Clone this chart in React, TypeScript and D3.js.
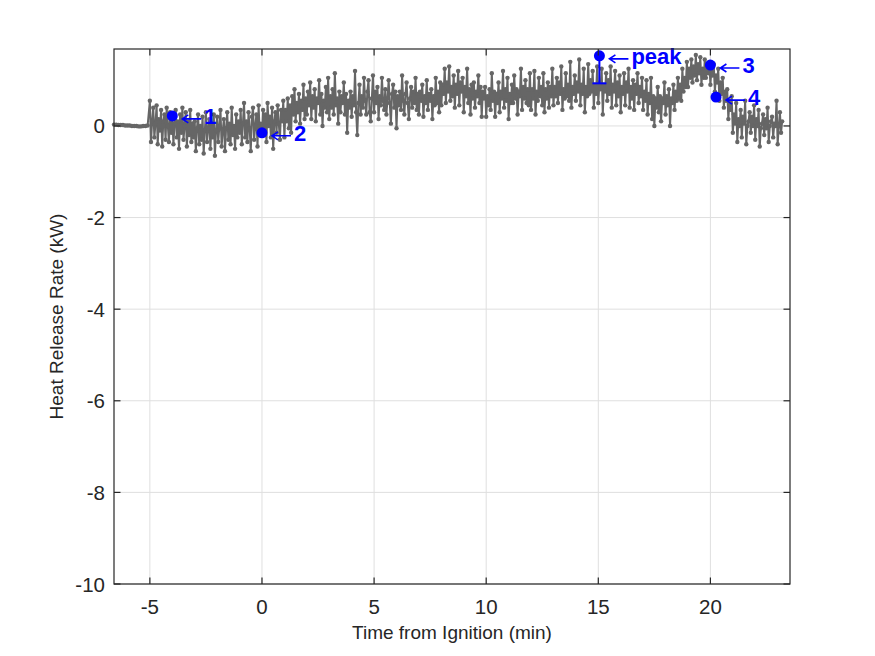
import { useMemo } from "react";
import * as d3 from "d3";

const W = 875;
const H = 656;
const MARGIN = { top: 49, right: 85, bottom: 72, left: 114 };

const X_DOMAIN = [-6.6, 23.55];
const X_TICKS = [-5, 0, 5, 10, 15, 20];
const Y_DOMAIN = [-10, 1.68];
const Y_TICKS = [-10, -8, -6, -4, -2, 0];

// pre-ignition baseline, sampled every 0.1 min from -6.6
const PRE_START = -6.6;
const PRE_STEP = 0.1;
const PRE_VALUES = [0.03, 0.03, 0.02, 0.02, 0.02, 0.01, 0.01, 0.01, 0.0, 0.0, 0.0, -0.01, -0.01, 0.0, 0.0, 0.01];

// heat release rate (kW), sampled every 0.05 min from -5.0 (one row per minute)
const HRR_START = -5.0;
const STEP = 0.05;
const HRR_VALUES = [
  0.55, -0.35, 0.1, 0.4, -0.25, 0.05, 0.45, -0.4, 0.15, -0.1, 0.35, -0.45, 0.1, 0.25, -0.3, 0.4, 0.0, -0.35, 0.3, -0.15,
  0.2, -0.4, 0.05, 0.35, -0.25, 0.1, -0.5, 0.25, -0.15, 0.4, -0.3, 0.0, 0.3, -0.45, 0.1, -0.2, 0.35, -0.35, 0.05, -0.25,
  0.1, -0.55, -0.05, 0.25, -0.4, 0.0, -0.3, 0.2, -0.6, -0.1, 0.3, -0.35, -0.05, 0.15, -0.5, 0.05, -0.25, 0.25, -0.65, -0.1,
  0.2, -0.35, 0.0, 0.35, -0.45, -0.1, 0.15, -0.55, -0.05, 0.3, -0.3, 0.05, -0.4, 0.4, -0.2, 0.0, -0.5, 0.25, -0.25, 0.1,
  -0.15, 0.35, -0.4, 0.05, 0.5, -0.25, 0.1, -0.35, 0.3, -0.05, -0.55, 0.2, 0.4, -0.3, 0.0, 0.25, -0.45, 0.45, -0.2, 0.05,
  -0.2, 0.35, -0.05, 0.25, -0.35, 0.5, 0.0, 0.2, -0.25, 0.4, -0.5, 0.1, 0.3, -0.15, 0.45, 0.05, -0.3, 0.35, 0.1, 0.55,
  -0.25, 0.35, 0.1, 0.6, -0.05, 0.45, -0.15, 0.65, 0.25, 0.8, 0.1, 0.5, 0.3, 0.7, 0.05, 0.55, 0.35, 0.9, 0.15, 0.6,
  0.25, 0.75, 0.45, 0.95, 0.15, 0.65, 0.4, 0.8, 0.1, 0.6, 0.5, 1.0, 0.25, 0.7, 0.0, 0.55, 0.4, 0.85, 0.3, 1.05,
  0.15, 0.65, 0.4, 0.8, 0.25, 1.15, 0.45, 0.6, 0.05, 0.75, 0.3, 0.65, 0.5, 0.95, 0.25, 0.7, -0.15, 0.55, 0.4, 0.75,
  0.2, 0.65, 0.45, 1.2, 0.3, -0.2, 0.5, 0.9, 0.25, 0.65, 0.4, 1.05, 0.55, 0.25, 0.75, 1.0, 0.3, 0.1, 0.6, 1.1,
  0.3, 0.75, 0.5, 0.85, 0.15, 0.65, 0.45, 1.05, 0.55, 0.35, 0.8, 0.25, 0.6, 1.0, 0.5, 0.05, 0.7, 0.9, 0.4, 0.75,
  -0.05, 0.65, 0.45, 0.75, 0.35, 1.1, 0.55, 0.25, 0.7, 0.95, 0.5, 0.15, 0.6, 0.85, 0.4, 0.75, 0.5, 1.05, 0.35, 0.7,
  0.25, 0.75, 0.55, 0.9, 0.2, 0.65, 0.5, 1.0, 0.35, 0.7, 0.55, 0.8, 0.15, 0.65, 0.45, 1.05, 0.5, 0.75, 0.3, 0.95,
  0.45, 0.9, 0.7, 1.25, 0.5, 0.95, 0.75, 1.3, 0.55, 0.85, 0.65, 1.1, 0.4, 0.9, 0.7, 1.2, 0.45, 0.95, 0.75, 1.05,
  0.3, 0.85, 0.65, 1.25, 0.5, 0.8, 0.25, 0.9, 0.6, 0.95, 0.4, 0.75, 0.65, 1.1, 0.5, 0.85, 0.2, 0.75, 0.6, 0.85,
  0.2, 0.65, 0.45, 0.8, 0.35, 1.15, 0.55, 0.75, 0.2, 0.7, 0.5, 0.95, 0.3, 0.75, 0.6, 1.2, 0.4, 0.8, 0.55, 1.05,
  0.15, 0.7, 0.5, 0.9, 0.5, 1.1, 0.6, 0.8, 0.25, 0.75, 0.65, 1.25, 0.35, 0.85, 0.6, 1.0, 0.5, 0.8, 0.45, 1.15,
  0.35, 0.8, 0.6, 1.2, 0.25, 0.75, 0.55, 1.05, 0.65, 0.85, 0.45, 1.15, 0.3, 0.8, 0.6, 0.95, 0.4, 0.85, 0.65, 1.25,
  0.45, 0.85, 0.65, 1.05, 0.5, 0.95, 0.7, 1.3, 0.35, 0.8, 0.6, 1.15, 0.65, 0.9, 0.55, 1.4, 0.4, 0.85, 0.7, 1.1,
  0.55, 0.95, 0.75, 1.45, 0.45, 0.9, 0.7, 1.25, 0.3, 0.85, 0.65, 1.35, 0.7, 1.0, 0.75, 1.2, 0.4, 0.9, 0.7, 1.3,
  0.5, 0.95, 0.8, 1.25, 0.25, 0.9, 0.75, 1.15, 0.55, 1.0, 0.7, 1.3, 0.4, 0.9, 0.75, 1.2, 0.45, 0.95, 0.65, 1.1,
  0.3, 0.85, 0.7, 1.15, 0.45, 0.95, 0.75, 1.25, 0.4, 0.85, 0.6, 1.0, 0.35, 0.9, 0.7, 1.15, 0.5, 0.85, 0.65, 1.05,
  0.35, 0.75, 0.55, 1.0, 0.25, 0.7, 0.5, 1.05, 0.15, 0.65, 0.0, 0.6, 0.4, 0.85, 0.3, 0.65, 0.1, 0.6, 0.5, 0.95,
  0.25, 0.65, 0.45, 0.8, 0.0, 0.6, 0.5, 0.9, 0.35, 0.75, 0.55, 1.05, 0.6, 0.9, 0.55, 1.25, 0.75, 1.05, 0.85, 1.4,
  0.85, 1.25, 1.05, 1.45, 0.95, 1.3, 1.1, 1.55, 1.0, 1.35, 1.15, 1.5, 0.9, 1.25, 1.05, 1.45, 1.05, 1.35, 1.15, 1.4,
  0.9, 1.25, 1.1, 1.35, 0.75, 1.1, 0.95, 1.25, 0.55, 0.95, 0.7, 1.05, 0.4, 0.75, 0.55, 0.8, 0.15, 0.55, 0.35, 0.65,
  -0.15, 0.25, 0.05, 0.5, -0.35, 0.15, 0.0, 0.35, -0.25, 0.2, 0.05, 0.55, -0.4, 0.0, 0.1, 0.3, -0.15, 0.2, 0.0, 0.45,
  -0.3, 0.15, 0.0, 0.35, -0.45, -0.05, 0.05, 0.25, -0.2, 0.15, -0.05, 0.4, -0.35, 0.0, 0.1, 0.2, -0.25, 0.05, 0.0, 0.55,
  -0.4, 0.0, 0.3, -0.15, 0.1,
];

// annotated events
const EVENT_LABELS = ["1", "2", "peak", "3", "4"];
const EVENT_TIMES = [-4.0, 0.0, 15.05, 20.0, 20.25];
const EVENT_VALUES = [0.22, -0.15, 1.53, 1.33, 0.63];
const PEAK_LOWER = 0.93;

const FONT = "'Liberation Sans', Arial, Helvetica, sans-serif";
const AXIS_COLOR = "#262626";
const GRID_COLOR = "#dfdfdf";
const LINE_COLOR = "#666666";
const BLUE = "#0000ff";

export default function App() {
  const innerW = W - MARGIN.left - MARGIN.right;
  const innerH = H - MARGIN.top - MARGIN.bottom;

  const x = d3.scaleLinear().domain(X_DOMAIN).range([0, innerW]);
  const y = d3.scaleLinear().domain(Y_DOMAIN).range([innerH, 0]);

  const points = useMemo(() => {
    const pre = PRE_VALUES.map((v, i) => [PRE_START + i * PRE_STEP, v]);
    const main = HRR_VALUES.map((v, i) => [HRR_START + i * STEP, v]);
    return [...pre, ...main];
  }, []);

  const line = d3
    .line<number[]>()
    .x((d) => x(d[0]))
    .y((d) => y(d[1]));

  const tickLen = 6.5;

  return (
    <svg
      width={W}
      height={H}
      style={{ position: "absolute", left: 0, top: 0, background: "#fff" }}
      fontFamily={FONT}
    >
      <g transform={`translate(${MARGIN.left},${MARGIN.top})`}>
        {/* grid */}
        {X_TICKS.map((t) => (
          <line key={"gx" + t} x1={x(t)} x2={x(t)} y1={0} y2={innerH} stroke={GRID_COLOR} strokeWidth={1} />
        ))}
        {Y_TICKS.map((t) => (
          <line key={"gy" + t} x1={0} x2={innerW} y1={y(t)} y2={y(t)} stroke={GRID_COLOR} strokeWidth={1} />
        ))}

        {/* data */}
        <path d={line(points) || ""} fill="none" stroke={LINE_COLOR} strokeWidth={2} strokeLinejoin="round" />
        {points.map((d, i) => (
          <circle key={i} cx={x(d[0])} cy={y(d[1])} r={2.2} fill={LINE_COLOR} />
        ))}

        {/* peak error bar */}
        <line
          x1={x(EVENT_TIMES[2])}
          x2={x(EVENT_TIMES[2])}
          y1={y(EVENT_VALUES[2])}
          y2={y(PEAK_LOWER)}
          stroke={BLUE}
          strokeWidth={2}
        />
        <line
          x1={x(EVENT_TIMES[2]) - 7}
          x2={x(EVENT_TIMES[2]) + 7}
          y1={y(PEAK_LOWER)}
          y2={y(PEAK_LOWER)}
          stroke={BLUE}
          strokeWidth={2}
        />

        {/* event markers and labels */}
        {EVENT_LABELS.map((lab, i) => {
          const cx = x(EVENT_TIMES[i]);
          const cy = y(EVENT_VALUES[i]);
          const ay = cy + 3;
          return (
            <g key={lab}>
              <circle cx={cx} cy={cy} r={5.5} fill={BLUE} />
              <path
                d={`M${cx + 29},${ay}H${cx + 10}M${cx + 16},${ay - 4}L${cx + 10},${ay}L${cx + 16},${ay + 4}`}
                fill="none"
                stroke={BLUE}
                strokeWidth={1.6}
              />
              <text x={cx + 32} y={cy + 8} fill={BLUE} fontSize={22} fontWeight="bold">
                {lab}
              </text>
            </g>
          );
        })}

        {/* box */}
        <rect x={0} y={0} width={innerW} height={innerH} fill="none" stroke={AXIS_COLOR} strokeWidth={1.2} />

        {/* ticks */}
        {X_TICKS.map((t) => (
          <g key={"tx" + t}>
            <line x1={x(t)} x2={x(t)} y1={innerH} y2={innerH - tickLen} stroke={AXIS_COLOR} strokeWidth={1.2} />
            <line x1={x(t)} x2={x(t)} y1={0} y2={tickLen} stroke={AXIS_COLOR} strokeWidth={1.2} />
            <text x={x(t)} y={innerH + 30} textAnchor="middle" fontSize={20.5} fill={AXIS_COLOR}>
              {t}
            </text>
          </g>
        ))}
        {Y_TICKS.map((t) => (
          <g key={"ty" + t}>
            <line x1={0} x2={tickLen} y1={y(t)} y2={y(t)} stroke={AXIS_COLOR} strokeWidth={1.2} />
            <line x1={innerW} x2={innerW - tickLen} y1={y(t)} y2={y(t)} stroke={AXIS_COLOR} strokeWidth={1.2} />
            <text x={-9} y={y(t) + 7.5} textAnchor="end" fontSize={20.5} fill={AXIS_COLOR}>
              {t}
            </text>
          </g>
        ))}

        {/* axis labels */}
        <text x={innerW / 2} y={innerH + 55} textAnchor="middle" fontSize={19} fill={AXIS_COLOR}>
          Time from Ignition (min)
        </text>
        <text
          transform={`translate(${-51},${innerH / 2}) rotate(-90)`}
          textAnchor="middle"
          fontSize={19}
          fill={AXIS_COLOR}
        >
          Heat Release Rate (kW)
        </text>
      </g>
    </svg>
  );
}
